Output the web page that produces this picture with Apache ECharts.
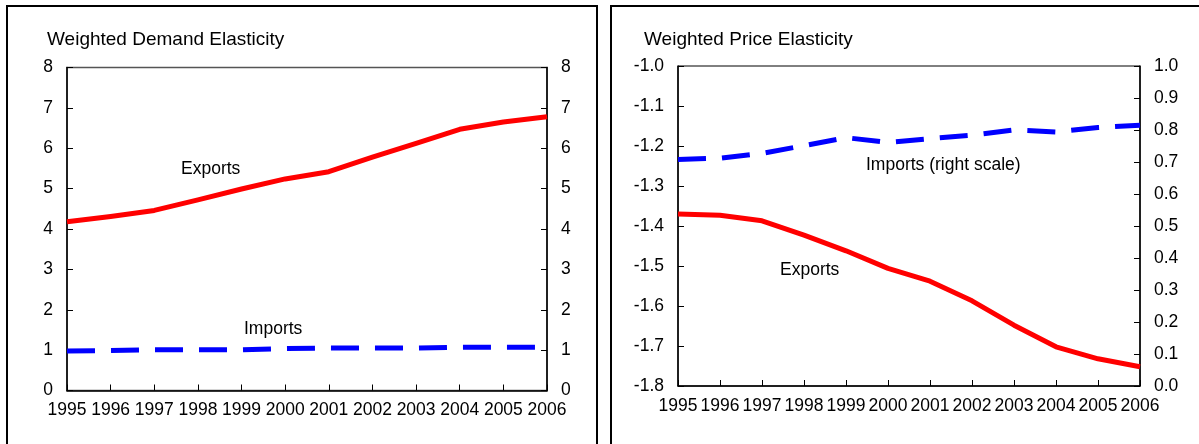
<!DOCTYPE html>
<html>
<head>
<meta charset="utf-8">
<script src="https://cdn.jsdelivr.net/npm/echarts@6/dist/echarts.min.js"></script>
<style>
html,body{margin:0;padding:0;background:#fff;}
#chart{width:1199px;height:444px;}
</style>
</head>
<body>
<div id="chart"></div>
<script>
const years = ['1995','1996','1997','1998','1999','2000','2001','2002','2003','2004','2005','2006'];
const demandExports = [4.18, 4.31, 4.46, 4.72, 4.99, 5.24, 5.42, 5.78, 6.12, 6.47, 6.65, 6.78];
const demandImports = [0.98, 0.99, 1.01, 1.01, 1.01, 1.04, 1.05, 1.05, 1.05, 1.07, 1.07, 1.07];
const priceExports = [-1.370, -1.373, -1.387, -1.423, -1.462, -1.506, -1.538, -1.587, -1.648, -1.702, -1.732, -1.752];
const priceImports = [0.708, 0.712, 0.727, 0.751, 0.776, 0.761, 0.773, 0.784, 0.800, 0.794, 0.808, 0.815];
const titles = ['Weighted Demand Elasticity', 'Weighted Price Elasticity'];
const notes = ['Exports', 'Imports', 'Imports (right scale)', 'Exports'];

const FONT = '"Liberation Sans", Arial, sans-serif';
const LABEL = 17.5;
const chart = echarts.init(document.getElementById('chart'));

function xAx(g){
  return {
    gridIndex: g, type: 'category', data: years, boundaryGap: false,
    axisLine: {lineStyle: {color: '#000', width: 1.5}},
    axisTick: {inside: true, length: 6, lineStyle: {color: '#000', width: 1}},
    axisLabel: {interval: 0, margin: 11, fontSize: LABEL, color: '#000', fontFamily: FONT},
    splitLine: {show: false}
  };
}
function yAx(g, pos, min, max, step, dec){
  return {
    gridIndex: g, type: 'value', position: pos, min: min, max: max, interval: step,
    axisLine: {show: true, lineStyle: {color: '#000', width: 1.5}},
    axisTick: {show: true, inside: true, length: 6, lineStyle: {color: '#000', width: 1}},
    axisLabel: {margin: 14, fontSize: LABEL, color: '#000', fontFamily: FONT,
      formatter: v => Number(v).toFixed(dec)},
    splitLine: {show: false}
  };
}
const txt = (x, y, s, size) => ({
  type: 'text', left: x, top: y,
  style: {text: s, fill: '#000', font: size + 'px ' + FONT}
});

chart.setOption({
  animation: false,
  grid: [
    {left: 67, top: 67.5, width: 480, height: 323, show: true, borderColor: '#555', borderWidth: 1.5, backgroundColor: 'transparent'},
    {left: 678, top: 66, width: 462, height: 320, show: true, borderColor: '#000', borderWidth: 1, backgroundColor: 'transparent'}
  ],
  xAxis: [xAx(0), xAx(1)],
  yAxis: [
    yAx(0, 'left', 0, 8, 1, 0),
    yAx(0, 'right', 0, 8, 1, 0),
    yAx(1, 'left', -1.8, -1.0, 0.1, 1),
    yAx(1, 'right', 0, 1, 0.1, 1)
  ],
  series: [
    {type: 'line', xAxisIndex: 0, yAxisIndex: 0, data: demandExports, symbol: 'none',
      lineStyle: {color: '#ff0000', width: 5, join: 'round'}},
    {type: 'line', xAxisIndex: 0, yAxisIndex: 0, data: demandImports, symbol: 'none',
      lineStyle: {color: '#0000ff', width: 5, type: [28, 16], cap: 'butt'}},
    {type: 'line', xAxisIndex: 1, yAxisIndex: 2, data: priceExports, symbol: 'none',
      lineStyle: {color: '#ff0000', width: 5, join: 'round'}},
    {type: 'line', xAxisIndex: 1, yAxisIndex: 3, data: priceImports, symbol: 'none',
      lineStyle: {color: '#0000ff', width: 5, type: [28, 16], cap: 'butt'}}
  ],
  graphic: [
    {type: 'rect', shape: {x: 7, y: 6, width: 590, height: 520}, style: {fill: 'none', stroke: '#000', lineWidth: 2}},
    {type: 'rect', shape: {x: 611, y: 6, width: 700, height: 520}, style: {fill: 'none', stroke: '#000', lineWidth: 2}},
    txt(47, 30, titles[0], 19),
    txt(644, 30, titles[1], 19),
    txt(181, 160, notes[0], 17.5),
    txt(244, 320, notes[1], 17.5),
    txt(866, 156, notes[2], 17.5),
    txt(780, 261, notes[3], 17.5)
  ]
});
</script>
</body>
</html>
